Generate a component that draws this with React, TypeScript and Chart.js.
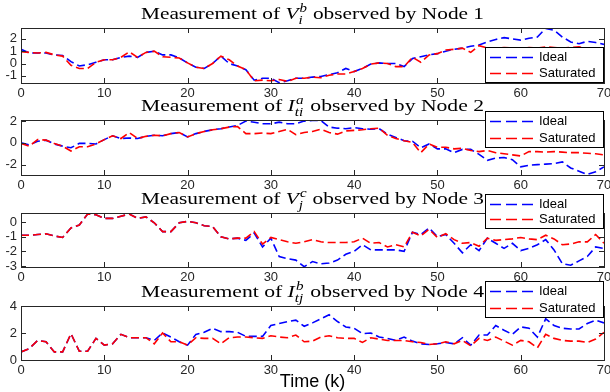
import React, { useEffect, useRef } from 'react';
import { Chart, registerables } from 'chart.js';

Chart.register(...registerables);

// ---- data ----
const steps = [0,1,2,3,4,5,6,7,8,9,10,11,12,13,14,15,16,17,18,19,20,21,22,23,24,25,26,27,28,29,30,31,32,33,34,35,36,37,38,39,40,41,42,43,44,45,46,47,48,49,50,51,52,53,54,55,56,57,58,59,60,61,62,63,64,65,66,67,68,69,70];

const seriesLabels = ['Ideal', 'Saturated'];
const xTicks = [0, 10, 20, 30, 40, 50, 60, 70];

const p1Ideal = [1.15,0.85,0.85,0.85,0.7,0.65,0.15,-0.2,-0.1,0.1,0.3,0.3,0.5,0.6,0.5,0.9,1.0,0.7,0.7,0.45,0.05,-0.3,-0.4,0.0,0.6,0.0,-0.2,-0.5,-1.35,-1.2,-1.2,-1.55,-1.4,-1.2,-1.2,-1.1,-1.05,-0.9,-0.75,-0.4,-0.65,-0.4,-0.05,0.05,0.0,0.0,-0.25,0.4,0.55,0.7,0.8,1.0,1.15,1.25,1.4,1.5,1.75,1.95,2.1,2.0,1.9,2.05,2.15,2.85,2.7,2.15,1.75,1.6,1.8,1.7,1.55];
const p1Sat = [0.95,0.9,0.85,0.9,0.7,0.6,-0.15,-0.4,-0.4,0.1,0.3,0.3,0.5,0.95,0.5,0.9,1.0,0.55,0.5,0.45,0.05,-0.3,-0.4,0.0,0.6,0.3,-0.2,-0.5,-1.4,-1.35,-1.4,-1.3,-1.45,-1.2,-1.2,-1.1,-1.15,-0.95,-0.85,-0.85,-0.65,-0.4,-0.05,0.05,0.0,-0.25,-0.25,0.5,0.1,0.7,0.8,1.1,1.15,1.25,0.9,1.45,1.25,1.2,1.3,1.25,1.2,1.3,1.25,1.35,1.3,1.25,1.3,1.35,1.2,1.25,1.2];
const p1YTicks = [-1, 0, 1, 2];

const p2Ideal = [0.0,-0.2,0.15,0.25,-0.1,-0.3,-0.45,-0.05,-0.05,-0.1,0.3,0.65,0.4,0.45,0.4,0.6,0.7,0.65,0.85,0.95,0.55,0.85,1.05,1.2,1.3,1.45,1.6,2.0,1.9,1.75,1.75,1.9,1.75,1.75,2.0,2.05,2.05,1.45,1.35,1.3,1.4,1.3,1.25,1.3,0.8,0.5,0.2,0.15,-0.45,-0.1,-0.55,-0.55,-0.9,-0.6,-0.6,-1.05,-1.6,-1.4,-1.35,-1.55,-2.2,-2.05,-2.0,-1.95,-1.9,-1.75,-2.3,-2.6,-2.9,-2.65,-2.2];
const p2Sat = [-0.05,-0.3,0.3,0.25,-0.05,-0.3,-0.75,-0.35,-0.35,-0.1,0.3,0.65,0.4,0.95,0.4,0.6,0.7,0.65,0.85,0.95,0.55,0.85,1.05,1.2,1.3,1.45,1.5,0.85,0.85,0.9,0.85,1.05,1.25,0.75,0.95,1.05,1.25,0.95,0.8,1.1,1.15,1.2,1.3,1.35,0.7,0.4,0.2,0.05,-0.9,-0.1,-0.4,-0.4,-0.55,-0.5,-0.7,-0.8,-0.7,-0.9,-1.0,-1.1,-1.2,-0.8,-0.8,-0.85,-0.8,-0.85,-0.9,-0.9,-0.95,-1.0,-1.1];
const p2YTicks = [-2, 0, 2];

const p3Ideal = [-0.9,-0.9,-0.85,-0.8,-0.95,-1.05,-0.4,-0.2,0.55,0.5,0.25,0.25,0.4,0.55,0.25,0.35,-0.05,-0.65,-0.65,-0.05,0.05,-0.05,-0.25,-0.3,-1.0,-1.15,-1.1,-1.25,-0.75,-1.7,-1.1,-2.35,-2.5,-2.6,-3.05,-2.7,-2.85,-2.8,-2.6,-2.2,-2.0,-1.55,-1.9,-1.9,-1.9,-1.9,-2.0,-0.7,-0.85,-0.4,-1.0,-0.85,-1.45,-2.1,-1.55,-1.95,-1.1,-1.45,-1.8,-1.45,-1.95,-1.8,-1.55,-1.2,-1.9,-2.85,-2.95,-2.65,-2.35,-1.7,-1.8];
const p3Sat = [-0.9,-0.9,-0.85,-0.8,-0.95,-1.05,-0.4,-0.2,0.55,0.5,0.25,0.25,0.4,0.55,0.25,0.35,-0.05,-0.65,-0.65,-0.05,0.05,-0.05,-0.25,-0.3,-1.0,-1.15,-1.1,-1.1,-0.65,-1.5,-1.05,-1.2,-1.35,-1.45,-1.35,-1.2,-1.35,-1.4,-1.4,-1.4,-1.35,-1.1,-1.45,-1.4,-1.7,-1.55,-1.7,-0.7,-0.95,-0.5,-1.05,-0.8,-1.2,-1.45,-1.4,-1.65,-1.1,-1.25,-1.2,-1.15,-1.05,-1.15,-1.2,-0.9,-1.15,-1.55,-1.5,-1.35,-1.35,-0.85,-1.45];
const p3YTicks = [-3, -2, -1, 0];

const p4Ideal = [0.6,0.85,1.45,1.35,0.6,0.6,1.95,0.65,0.65,1.6,1.1,1.2,1.9,1.65,1.65,1.65,1.45,2.0,1.7,1.35,1.1,1.9,2.05,2.35,2.1,2.1,2.05,1.75,1.75,1.75,2.55,2.7,2.85,2.95,2.5,2.75,3.05,3.35,2.85,2.45,2.35,1.95,2.0,1.7,1.6,1.45,1.7,1.4,1.2,1.15,1.2,1.3,1.2,1.65,1.1,1.85,1.85,2.55,2.2,1.9,2.45,2.35,1.7,3.05,2.55,2.35,2.3,2.3,2.7,2.95,2.75];
const p4Sat = [0.6,0.85,1.45,1.35,0.6,0.6,1.95,0.65,0.65,1.6,1.1,1.2,1.9,1.65,1.65,1.65,1.2,2.0,1.35,1.35,1.1,1.65,1.6,1.6,1.2,1.65,1.7,1.7,1.65,1.6,1.8,1.7,1.65,1.85,1.35,1.4,1.7,1.8,1.65,1.6,1.6,1.3,1.65,1.55,1.45,1.45,1.45,1.35,1.3,1.15,1.2,1.35,1.2,1.45,1.05,1.6,1.45,1.7,1.4,1.1,1.45,1.35,0.9,1.9,1.6,1.45,1.4,1.4,1.3,1.55,2.05];
const p4YTicks = [0, 2, 4];

const xAxisTitle = 'Time (k)';

type TitlePart = { t?: string; it?: boolean; sub?: string; sup?: string };

const panels = [
  { ideal: p1Ideal, sat: p1Sat, yTicks: p1YTicks, yMin: -1.58, yMax: 2.88, top: 28, bottom: 83, legTop: 47, legBottom: 83,
    title: [{ t: 'Measurement of ' }, { t: 'V', it: true }, { sub: 'i', sup: 'b' }, { t: ' observed by Node 1' }] as TitlePart[] },
  { ideal: p2Ideal, sat: p2Sat, yTicks: p2YTicks, yMin: -2.95, yMax: 2.1, top: 120, bottom: 175, legTop: 111, legBottom: 148,
    title: [{ t: 'Measurement of ' }, { t: 'I', it: true }, { sub: 'ti', sup: 'a' }, { t: ' observed by Node 2' }] as TitlePart[] },
  { ideal: p3Ideal, sat: p3Sat, yTicks: p3YTicks, yMin: -3.07, yMax: 0.62, top: 213, bottom: 267, legTop: 194, legBottom: 229,
    title: [{ t: 'Measurement of ' }, { t: 'V', it: true }, { sub: 'j', sup: 'c' }, { t: ' observed by Node 3' }] as TitlePart[] },
  { ideal: p4Ideal, sat: p4Sat, yTicks: p4YTicks, yMin: 0, yMax: 4, top: 306, bottom: 360, legTop: 281, legBottom: 318,
    title: [{ t: 'Measurement of ' }, { t: 'I', it: true }, { sub: 'tj', sup: 'b' }, { t: ' observed by Node 4' }] as TitlePart[], xTitle: true },
];

const W = 610;
const H = 392;
const AREA_LEFT = 21;
const AREA_RIGHT = 604;
const X_SCALE_H = 20;
const AXIS_COLOR = '#262626';
const TICK_FONT = { family: '"Liberation Sans", Arial, sans-serif', size: 13 };
const SERIF = '"Liberation Serif", "Times New Roman", serif';
const TITLE_WIDTH = 343;
const TITLE_SIZE = 16.5;

function titleWidth(ctx: CanvasRenderingContext2D, parts: TitlePart[], s: number) {
  let w = 0;
  for (const p of parts) {
    if (p.t !== undefined) {
      ctx.font = `${p.it ? 'italic ' : ''}${s}px ${SERIF}`;
      w += ctx.measureText(p.t).width;
    } else {
      ctx.font = `italic ${s * 0.7}px ${SERIF}`;
      w += Math.max(ctx.measureText(p.sub || '').width, ctx.measureText(p.sup || '').width) + s * 0.08;
    }
  }
  return w;
}

function drawTitle(ctx: CanvasRenderingContext2D, parts: TitlePart[], cx: number, baseline: number) {
  const s = TITLE_SIZE;
  const w = titleWidth(ctx, parts, s);
  const sx = TITLE_WIDTH / w;
  ctx.save();
  ctx.translate(cx - TITLE_WIDTH / 2, baseline);
  ctx.scale(sx, 1);
  let x = 0;
  ctx.fillStyle = '#000';
  ctx.textBaseline = 'alphabetic';
  ctx.textAlign = 'left';
  for (const p of parts) {
    if (p.t !== undefined) {
      ctx.font = `${p.it ? 'italic ' : ''}${s}px ${SERIF}`;
      ctx.fillText(p.t, x, 0);
      x += ctx.measureText(p.t).width;
    } else {
      ctx.font = `italic ${s * 0.7}px ${SERIF}`;
      const sw = ctx.measureText(p.sub || '').width;
      const pw = ctx.measureText(p.sup || '').width;
      ctx.fillText(p.sup || '', x + s * 0.05, -s * 0.45);
      ctx.fillText(p.sub || '', x, s * 0.3);
      x += Math.max(sw, pw) + s * 0.08;
    }
  }
  ctx.restore();
}

const decorPlugin = {
  id: 'panelDecor',
  afterDraw(chart: any, _args: any, opts: any) {
    const ctx: CanvasRenderingContext2D = chart.ctx;
    const a = chart.chartArea;
    const xs = chart.scales.x;
    const ys = chart.scales.y;
    const tl = 5;
    ctx.save();
    ctx.strokeStyle = AXIS_COLOR;
    ctx.lineWidth = 1;
    ctx.setLineDash([]);
    ctx.beginPath();
    for (const v of xTicks) {
      const px = Math.round(xs.getPixelForValue(v)) + 0.5;
      ctx.moveTo(px, a.top);
      ctx.lineTo(px, a.top + tl);
      ctx.moveTo(px, a.bottom);
      ctx.lineTo(px, a.bottom - tl);
    }
    for (const v of opts.yTicks) {
      const py = Math.round(ys.getPixelForValue(v)) + 0.5;
      ctx.moveTo(a.left, py);
      ctx.lineTo(a.left + tl, py);
      ctx.moveTo(a.right, py);
      ctx.lineTo(a.right - tl, py);
    }
    ctx.stroke();
    ctx.strokeRect(Math.round(a.left) + 0.5, Math.round(a.top) + 0.5, Math.round(a.right - a.left), Math.round(a.bottom - a.top));

    // legend box
    const lx1 = 485, lx2 = AREA_RIGHT;
    const ly1 = opts.legTop, ly2 = opts.legBottom;
    ctx.fillStyle = '#fff';
    ctx.fillRect(lx1, ly1, lx2 - lx1, ly2 - ly1);
    ctx.strokeStyle = '#000';
    ctx.strokeRect(lx1 + 0.5, ly1 + 0.5, lx2 - lx1 - 1, ly2 - ly1 - 1);
    const rowH = (ly2 - ly1) / 2;
    chart.data.datasets.forEach((ds: any, i: number) => {
      const ry = Math.round(ly1 + rowH * (i + 0.5) + (i === 0 ? 1 : -1)) + 0.5;
      ctx.strokeStyle = ds.borderColor;
      ctx.lineWidth = 1.6;
      ctx.setLineDash([11, 5]);
      ctx.beginPath();
      ctx.moveTo(490, ry);
      ctx.lineTo(534, ry);
      ctx.stroke();
      ctx.setLineDash([]);
      ctx.fillStyle = '#000';
      ctx.font = `13px ${TICK_FONT.family}`;
      ctx.textBaseline = 'middle';
      ctx.textAlign = 'left';
      ctx.fillText(ds.label, 539, ry);
    });

    drawTitle(ctx, opts.title, (a.left + a.right) / 2, a.top - 9);

    if (opts.xTitle) {
      ctx.fillStyle = '#000';
      ctx.font = `18px ${TICK_FONT.family}`;
      ctx.textAlign = 'center';
      ctx.textBaseline = 'alphabetic';
      ctx.fillText(xAxisTitle, (a.left + a.right) / 2, 387);
    }
    ctx.restore();
  },
};

function Panel({ p }: { p: (typeof panels)[number] }) {
  const ref = useRef<HTMLCanvasElement | null>(null);
  useEffect(() => {
    if (!ref.current) return;
    const mk = (vals: number[]) => steps.map((k, i) => ({ x: k, y: vals[i] }));
    const chart = new Chart(ref.current, {
      type: 'line',
      data: {
        datasets: [
          { label: seriesLabels[0], data: mk(p.ideal), borderColor: '#0000ff', borderDash: [8, 4], borderWidth: 1.6, pointRadius: 0, tension: 0, fill: false, order: 1, clip: 0 },
          { label: seriesLabels[1], data: mk(p.sat), borderColor: '#ff0000', borderDash: [8, 4], borderWidth: 1.6, pointRadius: 0, tension: 0, fill: false, order: 0, clip: 0 },
        ],
      } as any,
      options: {
        responsive: false,
        animation: false,
        devicePixelRatio: 1,
        events: [],
        layout: { padding: { left: 0, right: W - AREA_RIGHT, top: p.top, bottom: H - p.bottom - X_SCALE_H } },
        plugins: {
          legend: { display: false },
          tooltip: { enabled: false },
          title: { display: false },
          panelDecor: { yTicks: p.yTicks, legTop: p.legTop, legBottom: p.legBottom, title: p.title, xTitle: !!(p as any).xTitle },
        } as any,
        scales: {
          x: {
            type: 'linear',
            min: 0,
            max: 70,
            grid: { display: false, drawTicks: false },
            border: { display: false },
            ticks: { stepSize: 10, padding: 3, color: AXIS_COLOR, font: TICK_FONT, maxRotation: 0, autoSkip: false },
            afterBuildTicks: (s: any) => { s.ticks = xTicks.map((v) => ({ value: v })); },
            afterFit: (s: any) => { s.height = X_SCALE_H; s.paddingLeft = 0; s.paddingRight = 0; },
          },
          y: {
            type: 'linear',
            min: p.yMin,
            max: p.yMax,
            grid: { display: false, drawTicks: false },
            border: { display: false },
            ticks: { padding: 4, color: AXIS_COLOR, font: TICK_FONT, autoSkip: false },
            afterBuildTicks: (s: any) => { s.ticks = p.yTicks.map((v) => ({ value: v })); },
            afterFit: (s: any) => { s.width = AREA_LEFT; s.paddingTop = 0; s.paddingBottom = 0; },
          },
        },
      } as any,
      plugins: [decorPlugin],
    });
    return () => chart.destroy();
  }, [p]);
  return <canvas ref={ref} width={W} height={H} style={{ position: 'absolute', left: 0, top: 0, width: W, height: H }} />;
}

export default function App() {
  return (
    <div style={{ position: 'fixed', left: 0, top: 0, width: W, height: H, background: '#fff', overflow: 'hidden' }}>
      {panels.map((p, i) => (
        <Panel key={i} p={p} />
      ))}
    </div>
  );
}
